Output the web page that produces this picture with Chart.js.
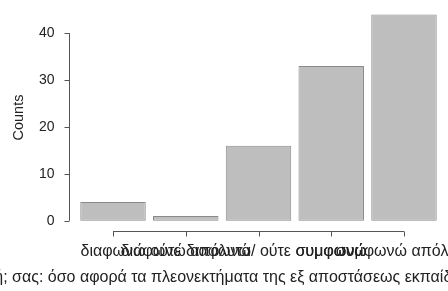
<!DOCTYPE html>
<html>
<head>
    <meta charset="utf-8" />
    <title>Counts</title>
    <script src="https://cdn.jsdelivr.net/npm/chart.js"></script>
    <style>
        html, body { margin: 0; padding: 0; background: #ffffff; }
        #chart { display: block; }
    </style>
</head>
<body>
    <canvas id="chart" width="448" height="291"></canvas>
    <script>
        // data (levels in alphabetical order, as R sorts them)
        const categories = ['διαφωνώ', 'διαφωνώ απόλυτα', 'ούτε διαφωνώ/ ούτε συμφωνώ', 'συμφωνώ', 'συμφωνώ απόλυτα'];
        const counts = [4, 1, 16, 33, 44];
        const yTicks = [0, 10, 20, 30, 40];
        const yTitle = 'Counts';
        const xTitle = 'Ποια είναι η άποψή; σας: όσο αφορά τα πλεονεκτήματα της εξ αποστάσεως εκπαίδευσης για εσάς προσωπικά;';

        const textColor = '#222222';
        const lineColor = '#555555';
        const fontFamily = '"Liberation Sans", Arial, sans-serif';

        // R-style axes: lines only span the ticks
        const rAxes = {
            id: 'rAxes',
            afterDraw(chart) {
                const ctx = chart.ctx;
                const x = chart.scales.x;
                const y = chart.scales.y;
                const area = chart.chartArea;
                ctx.save();
                ctx.strokeStyle = lineColor;
                ctx.lineWidth = 1;
                ctx.fillStyle = textColor;

                // y axis
                const ax = area.left + 0.5;
                ctx.beginPath();
                ctx.moveTo(ax, y.getPixelForValue(yTicks[0]));
                ctx.lineTo(ax, y.getPixelForValue(yTicks[yTicks.length - 1]));
                yTicks.forEach(t => {
                    const py = Math.round(y.getPixelForValue(t)) + 0.5;
                    ctx.moveTo(ax, py);
                    ctx.lineTo(ax - 5, py);
                });
                ctx.stroke();
                ctx.font = '14px ' + fontFamily;
                ctx.textAlign = 'right';
                ctx.textBaseline = 'middle';
                yTicks.forEach(t => {
                    ctx.fillText(String(t), ax - 15, y.getPixelForValue(t));
                });

                // y title
                ctx.save();
                ctx.translate(19, y.getPixelForValue(22));
                ctx.rotate(-Math.PI / 2);
                ctx.textAlign = 'center';
                ctx.font = '14.5px ' + fontFamily;
                ctx.fillText(yTitle, 0, 0);
                ctx.restore();

                // x axis
                const by = area.bottom + 0.5;
                ctx.beginPath();
                ctx.moveTo(x.getPixelForValue(1), by);
                ctx.lineTo(x.getPixelForValue(categories.length), by);
                categories.forEach((c, i) => {
                    const px = Math.round(x.getPixelForValue(i + 1)) + 0.5;
                    ctx.moveTo(px, by);
                    ctx.lineTo(px, by + 5);
                });
                ctx.stroke();
                ctx.textAlign = 'center';
                ctx.font = '16px ' + fontFamily;
                categories.forEach((c, i) => {
                    ctx.fillText(c, x.getPixelForValue(i + 1), area.bottom + 21);
                });

                // x title, centred on the plot region
                ctx.fillText(xTitle, (area.left + area.right) / 2, area.bottom + 47);
                ctx.restore();
            }
        };

        new Chart(document.getElementById('chart'), {
            type: 'bar',
            data: {
                datasets: [{
                    data: counts.map((c, i) => ({ x: i + 1, y: c })),
                    backgroundColor: '#bebebe',
                    borderColor: '#8a8a8a',
                    borderWidth: 1,
                    borderSkipped: false,
                    barPercentage: 0.9,
                    categoryPercentage: 1
                }]
            },
            options: {
                responsive: false,
                animation: false,
                layout: { padding: { left: 69, right: 0, top: 6, bottom: 60 } },
                plugins: {
                    legend: { display: false },
                    tooltip: { enabled: false }
                },
                scales: {
                    x: { type: 'linear', offset: false, min: 0.395, max: 5.605, display: false },
                    y: { min: -2.2, max: 45.8, display: false }
                }
            },
            plugins: [rAxes]
        });
    </script>
</body>
</html>
